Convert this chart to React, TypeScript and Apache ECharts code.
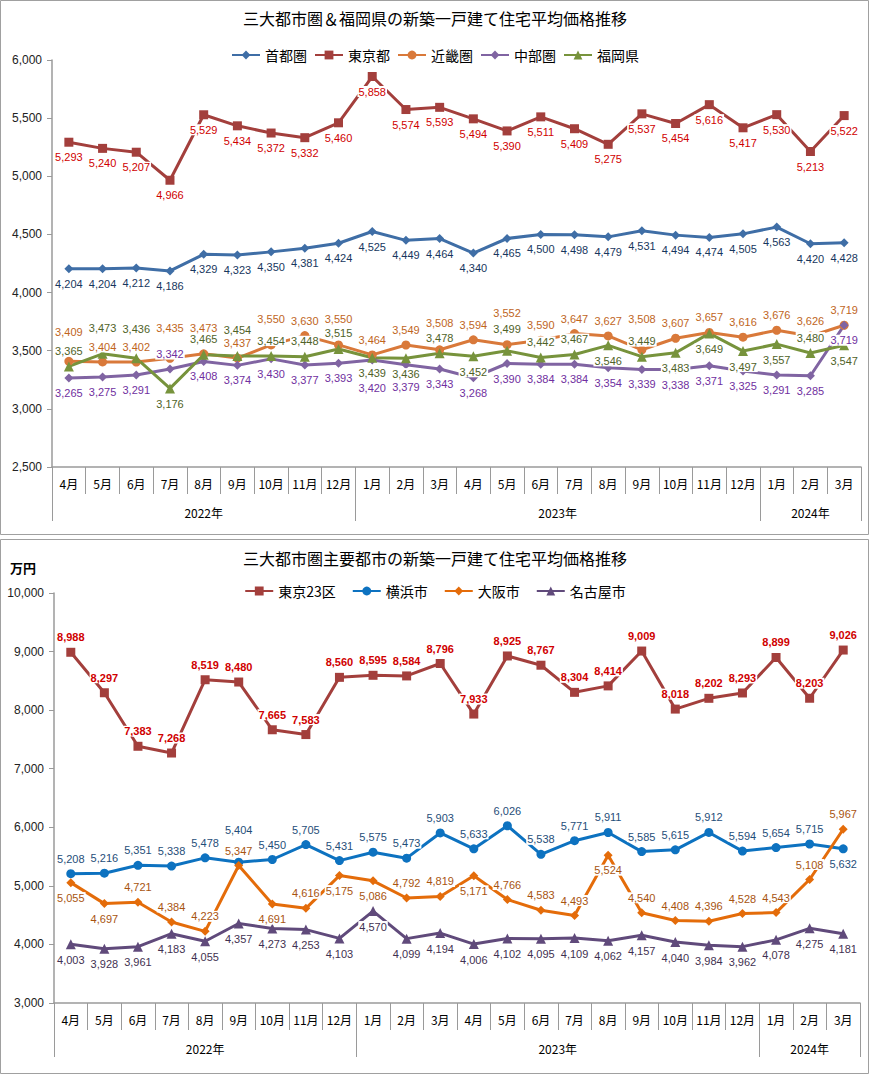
import React, { useEffect, useRef } from 'react';
import * as echarts from 'echarts';

// ---------- data ----------
const months = ['4月', '5月', '6月', '7月', '8月', '9月', '10月', '11月', '12月', '1月', '2月', '3月', '4月', '5月', '6月', '7月', '8月', '9月', '10月', '11月', '12月', '1月', '2月', '3月'];
const years = ['2022年', '2023年', '2024年'];
const yearSpans = [9, 12, 3];

const title1 = '三大都市圏＆福岡県の新築一戸建て住宅平均価格推移';
const title2 = '三大都市圏主要都市の新築一戸建て住宅平均価格推移';
const unit2 = '万円';

const shutoken = [4204, 4204, 4212, 4186, 4329, 4323, 4350, 4381, 4424, 4525, 4449, 4464, 4340, 4465, 4500, 4498, 4479, 4531, 4494, 4474, 4505, 4563, 4420, 4428];
const tokyoto = [5293, 5240, 5207, 4966, 5529, 5434, 5372, 5332, 5460, 5858, 5574, 5593, 5494, 5390, 5511, 5409, 5275, 5537, 5454, 5616, 5417, 5530, 5213, 5522];
const kinkiken = [3409, 3404, 3402, 3435, 3473, 3437, 3550, 3630, 3550, 3464, 3549, 3508, 3594, 3552, 3590, 3647, 3627, 3508, 3607, 3657, 3616, 3676, 3626, 3719];
const chubuken = [3265, 3275, 3291, 3342, 3408, 3374, 3430, 3377, 3393, 3420, 3379, 3343, 3268, 3390, 3384, 3384, 3354, 3339, 3338, 3371, 3325, 3291, 3285, 3719];
const fukuoka = [3365, 3473, 3436, 3176, 3465, 3454, 3454, 3448, 3515, 3439, 3436, 3478, 3452, 3499, 3442, 3467, 3546, 3449, 3483, 3649, 3497, 3557, 3480, 3547];

const tokyo23 = [8988, 8297, 7383, 7268, 8519, 8480, 7665, 7583, 8560, 8595, 8584, 8796, 7933, 8925, 8767, 8304, 8414, 9009, 8018, 8202, 8293, 8899, 8203, 9026];
const yokohama = [5208, 5216, 5351, 5338, 5478, 5404, 5450, 5705, 5431, 5575, 5473, 5903, 5633, 6026, 5538, 5771, 5911, 5585, 5615, 5912, 5594, 5654, 5715, 5632];
const osaka = [5055, 4697, 4721, 4384, 4223, 5347, 4691, 4616, 5175, 5086, 4792, 4819, 5171, 4766, 4583, 4493, 5524, 4540, 4408, 4396, 4528, 4543, 5108, 5967];
const nagoya = [4003, 3928, 3961, 4183, 4055, 4357, 4273, 4253, 4103, 4570, 4099, 4194, 4006, 4102, 4095, 4109, 4062, 4157, 4040, 3984, 3962, 4078, 4275, 4181];

// label placement exceptions (index -> position)
const chubuFlip: Record<number, string> = { 3: 'top' };
const fukuokaFlip: Record<number, string> = { 3: 'bottom', 9: 'bottom', 10: 'bottom', 12: 'bottom', 16: 'bottom', 18: 'bottom', 19: 'bottom', 20: 'bottom', 21: 'bottom', 23: 'bottom' };
const yokohamaFlip: Record<number, string> = { 23: 'bottom' };
const osakaFlip: Record<number, string> = { 0: 'bottom', 1: 'bottom', 6: 'bottom', 8: 'bottom', 9: 'bottom', 12: 'bottom', 16: 'bottom' };
// extra label distance (index -> px) to keep neighbouring labels apart
const kinkiLift: Record<number, number> = { 0: 14, 3: 15, 4: 11, 6: 11, 8: 11, 11: 12, 13: 17, 17: 16 };
const fukuokaLift: Record<number, number> = { 1: 10, 2: 14, 5: 11, 13: 6 };
const chubuLift: Record<number, number> = { 9: 13, 10: 7 };
const yokohamaLift: Record<number, number> = { 5: 17 };

// ---------- styles ----------
const FONT_JP = '"Noto Sans CJK JP", "Noto Sans", sans-serif';
const FONT_NUM = '"Liberation Sans", Arial, sans-serif';
const AXIS_GRAY = '#9a9a9a';
const LABEL_DIST = 5;

type Spec = {
  name: string;
  values: number[];
  color: string;
  labelColor: string;
  symbol: string;
  symbolSize: number;
  pos: string;
  flip?: Record<number, string>;
  lift?: Record<number, number>;
  bold?: boolean;
};

const topSpecs: Spec[] = [
  { name: '首都圏', values: shutoken, color: '#3f6ea6', labelColor: '#17375e', symbol: 'diamond', symbolSize: 9, pos: 'bottom' },
  { name: '東京都', values: tokyoto, color: '#a33f3c', labelColor: '#d00000', symbol: 'rect', symbolSize: 9, pos: 'bottom' },
  { name: '近畿圏', values: kinkiken, color: '#d9793a', labelColor: '#c0651d', symbol: 'circle', symbolSize: 9, pos: 'top', lift: kinkiLift },
  { name: '中部圏', values: chubuken, color: '#8064a2', labelColor: '#7030a0', symbol: 'diamond', symbolSize: 9, pos: 'bottom', flip: chubuFlip, lift: chubuLift },
  { name: '福岡県', values: fukuoka, color: '#77933c', labelColor: '#4f6228', symbol: 'triangle', symbolSize: 10, pos: 'top', flip: fukuokaFlip, lift: fukuokaLift },
];

const bottomSpecs: Spec[] = [
  { name: '東京23区', values: tokyo23, color: '#a33f3c', labelColor: '#d00000', symbol: 'rect', symbolSize: 9, pos: 'top', bold: true },
  { name: '横浜市', values: yokohama, color: '#0d72c0', labelColor: '#1f4e79', symbol: 'circle', symbolSize: 9, pos: 'top', flip: yokohamaFlip, lift: yokohamaLift },
  { name: '大阪市', values: osaka, color: '#e46c0a', labelColor: '#a85410', symbol: 'diamond', symbolSize: 9, pos: 'top', flip: osakaFlip },
  { name: '名古屋市', values: nagoya, color: '#604a7b', labelColor: '#3f3151', symbol: 'triangle', symbolSize: 10, pos: 'bottom' },
];

const fmt = (v: number) => Number(v).toLocaleString('en-US');

function buildYearAxis() {
  const n = months.length * 2;
  const data: string[] = new Array(n + 1).fill('');
  const tickIdx: number[] = [0];
  const labelIdx: number[] = [];
  let start = 0;
  years.forEach((y, i) => {
    const end = start + yearSpans[i];
    const c = start + end;
    data[c] = y;
    labelIdx.push(c);
    tickIdx.push(end * 2);
    start = end;
  });
  return { data, tickIdx, labelIdx };
}

function xAxesFor(gridIndex: number) {
  const ya = buildYearAxis();
  return [
    {
      type: 'category',
      gridIndex,
      position: 'bottom',
      data: months,
      boundaryGap: true,
      axisLine: { show: true, lineStyle: { color: AXIS_GRAY, width: 1.5 } },
      axisTick: { show: true, interval: 0, length: 27, alignWithLabel: false, lineStyle: { color: AXIS_GRAY } },
      axisLabel: { interval: 0, margin: 10, fontSize: 12, color: '#000', fontFamily: FONT_JP },
      splitLine: { show: false },
    },
    {
      type: 'category',
      gridIndex,
      position: 'bottom',
      data: ya.data,
      boundaryGap: false,
      axisLine: { show: false },
      axisTick: { show: true, length: 54, interval: (i: number) => ya.tickIdx.includes(i), lineStyle: { color: AXIS_GRAY } },
      axisLabel: { interval: (i: number) => ya.labelIdx.includes(i), margin: 39, fontSize: 12, color: '#000', fontFamily: FONT_JP },
      splitLine: { show: false },
    },
  ];
}

function yAxisFor(gridIndex: number, min: number, max: number, interval: number) {
  return {
    type: 'value',
    gridIndex,
    min,
    max,
    interval,
    splitLine: { show: false },
    axisLine: { show: true, lineStyle: { color: AXIS_GRAY, width: 1.5 } },
    axisTick: { show: true, length: 5, lineStyle: { color: AXIS_GRAY } },
    axisLabel: { formatter: (v: number) => fmt(v), fontSize: 12, color: '#222', fontFamily: FONT_NUM, margin: 10 },
  };
}

function seriesFor(specs: Spec[], xAxisIndex: number, yAxisIndex: number) {
  return specs.map((s) => ({
    type: 'line',
    name: s.name,
    xAxisIndex,
    yAxisIndex,
    symbol: s.symbol,
    symbolSize: s.symbolSize,
    lineStyle: { color: s.color, width: 3 },
    itemStyle: { color: s.color },
    emphasis: { disabled: true },
    label: {
      show: true,
      position: s.pos,
      distance: LABEL_DIST,
      formatter: (p: any) => fmt(p.value),
      color: s.labelColor,
      fontSize: 11,
      fontWeight: s.bold ? 'bold' : 'normal',
      fontFamily: FONT_NUM,
      backgroundColor: '#ffffff',
      padding: [0, 1],
    },
    data: s.values.map((v, i) => {
      const p = s.flip && s.flip[i];
      const l = s.lift && s.lift[i];
      if (!p && !l) return v;
      const label: any = {};
      if (p) label.position = p;
      if (l) label.distance = LABEL_DIST + l;
      return { value: v, label };
    }),
  }));
}

const legendCommon = {
  left: 'center',
  itemWidth: 28,
  itemHeight: 11,
  textStyle: { fontSize: 14, color: '#000', fontFamily: FONT_JP },
  selectedMode: false,
};

const option: any = {
  animation: false,
  backgroundColor: '#ffffff',
  title: [
    { text: title1, left: 'center', top: 10, padding: 0, textStyle: { fontSize: 16, fontWeight: 'normal', color: '#000', fontFamily: FONT_JP } },
    { text: title2, left: 'center', top: 550, padding: 0, textStyle: { fontSize: 16, fontWeight: 'normal', color: '#000', fontFamily: FONT_JP } },
  ],
  legend: [
    { ...legendCommon, top: 43, itemGap: 7, data: topSpecs.map((s) => s.name) },
    { ...legendCommon, top: 579, itemGap: 16, data: bottomSpecs.map((s) => s.name) },
  ],
  grid: [
    { left: 52, right: 9, top: 60, height: 407 },
    { left: 54, right: 10, top: 593, height: 410 },
  ],
  xAxis: [...xAxesFor(0), ...xAxesFor(1)],
  yAxis: [yAxisFor(0, 2500, 6000, 500), yAxisFor(1, 3000, 10000, 1000)],
  series: [...seriesFor(topSpecs, 0, 0), ...seriesFor(bottomSpecs, 2, 1)],
  graphic: [
    { type: 'rect', shape: { x: 0.5, y: 0.5, width: 868, height: 534 }, style: { fill: 'none', stroke: '#a0a0a0', lineWidth: 1 }, silent: true },
    { type: 'rect', shape: { x: 0.5, y: 539.5, width: 868, height: 534 }, style: { fill: 'none', stroke: '#a0a0a0', lineWidth: 1 }, silent: true },
    { type: 'text', x: 10, y: 561, style: { text: unit2, fontSize: 13, fontWeight: 'bold', fill: '#000', fontFamily: FONT_JP }, silent: true },
  ],
};

export default function App() {
  const ref = useRef<HTMLDivElement>(null);
  useEffect(() => {
    if (!ref.current) return;
    const chart = echarts.init(ref.current, null, { renderer: 'svg' });
    chart.setOption(option);
    return () => chart.dispose();
  }, []);
  return (
    <div
      ref={ref}
      style={{ position: 'absolute', left: 0, top: 0, width: 870, height: 1075, background: '#fff' }}
    />
  );
}
